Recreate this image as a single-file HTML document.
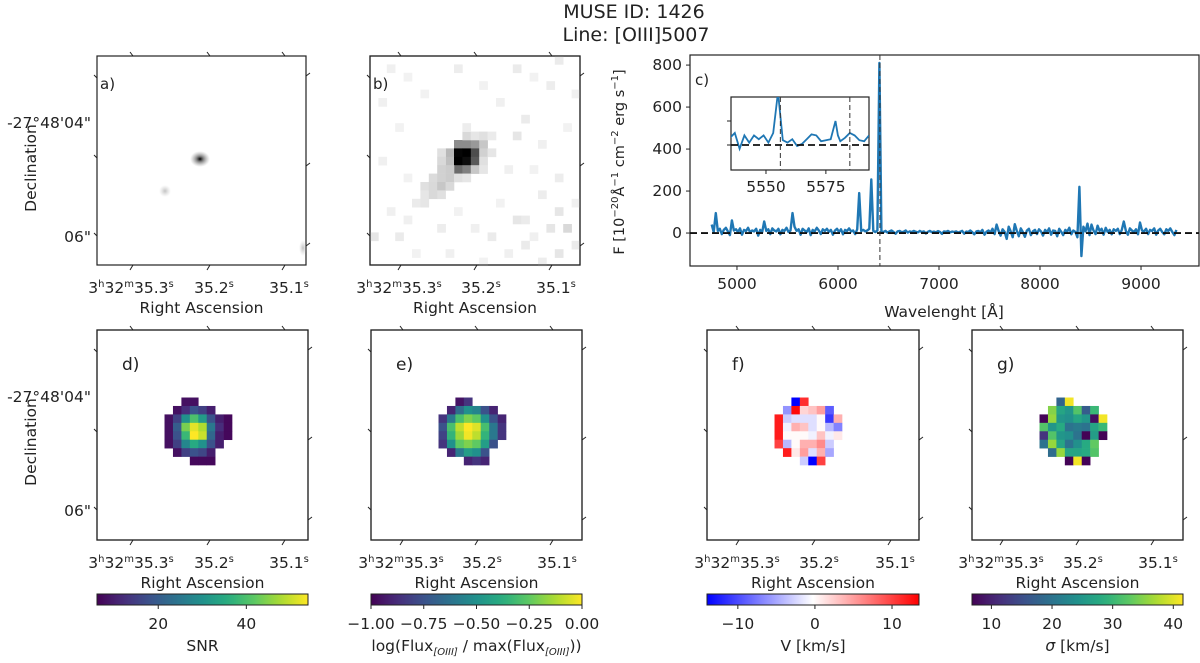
<!DOCTYPE html>
<html><head><meta charset="utf-8"><style>
body{margin:0;background:#fff}
svg text{font-family:"DejaVu Sans","Liberation Sans",sans-serif;fill:#222}
</style></head><body>
<svg id="fig" width="1200" height="658" viewBox="0 0 1200 658" xmlns="http://www.w3.org/2000/svg">
<text x="634" y="18" font-size="19" text-anchor="middle">MUSE ID: 1426</text>
<text x="636" y="41" font-size="19" text-anchor="middle">Line: [OIII]5007</text>
<g id="root"></g>
</svg>
<script>
// ---------- spectrum data ----------
const wlStart = 4750, wlStep = 20;
const specFlux = [40,5,95,10,20,-5,15,25,8,-10,60,12,18,5,22,-8,15,10,25,3,12,
8,20,-12,15,5,55,10,18,-5,22,12,8,20,-6,15,10,25,5,12,95,
30,10,18,-8,20,12,5,22,-10,15,8,25,12,-5,18,10,20,6,15,-8,
12,20,5,18,-6,15,10,22,8,12,-5,18,190,10,15,8,12,20,255,10,
5,12,810,8,5,10,2,8,12,5,-3,8,10,4,6,12,2,8,5,10,
6,3,10,5,8,-2,6,10,4,7,3,9,5,-4,8,6,10,3,7,5,
8,2,6,10,-3,7,5,12,4,-6,8,10,3,15,-8,6,12,2,20,-5,
40,10,-12,18,5,-28,30,8,-20,42,10,-15,22,5,-18,12,20,-10,8,15,
-5,18,8,-12,15,5,22,-8,12,10,-15,20,6,-10,15,8,25,-6,12,5,
-20,220,-110,30,8,45,-10,40,12,-5,35,10,20,-8,25,5,15,-6,18,10,
20,-5,15,55,10,-8,22,12,5,18,-6,50,12,8,20,-5,15,10,22,-8,
12,20,5,-6,18,10,22,5,-10,15];
const specXTicks = [5000,6000,7000,8000,9000];
const specYTicks = [0,200,400,600,800];
const lineCenter = 6415;
const insetWl = [5535,5537,5539,5541,5543,5545,5547,5549,5551,5553,5555,5557,5559,5561,5563,5565,5567,5569,5571,5573,5575,5577,5579,5580,5581,5583,5585,5587,5589,5591,5593];
const insetFlux = [15,25,-8,20,5,20,12,20,5,25,110,10,5,12,-2,2,12,22,20,8,10,12,50,20,8,15,25,20,10,8,20];
const insetXTicks = [5550,5575];
const insetDashed = [5556,5585];

// ---------- map data (8x8 cutouts, null = masked) ----------
const snrMap = [
[null,null,8,8,null,null,null,null],
[null,8,12,18,15,10,null,null],
[8,15,30,40,32,18,10,7],
[8,20,44,52,48,25,12,7],
[8,18,38,54,50,22,10,7],
[8,15,28,35,30,18,10,null],
[null,8,15,18,16,10,null,null],
[null,null,null,7,7,7,null,null]];
const fluxMap = [
[null,null,-0.95,-0.85,null,null,null,null],
[null,-0.9,-0.65,-0.5,-0.55,-0.75,-0.9,null],
[-0.85,-0.6,-0.3,-0.2,-0.25,-0.5,-0.75,-0.9],
[-0.75,-0.3,-0.1,0,-0.05,-0.3,-0.6,-0.85],
[-0.8,-0.35,-0.15,-0.02,-0.1,-0.35,-0.6,-0.85],
[-0.85,-0.5,-0.25,-0.2,-0.25,-0.45,-0.75,null],
[null,-0.9,-0.6,-0.45,-0.5,-0.75,null,null],
[null,null,null,-0.9,-0.85,-0.9,null,null]];
const velMap = [
[null,null,-14,11,null,null,null,null],
[null,-6,13,2,3,5,-9,null],
[12,-3,-2,-2,-2,0,-11,4],
[12,-1,4,3,-2,0,-4,-7],
[12,0,0,0,-1,3,-1,1],
[10,-4,0,4,4,6,-3,null],
[null,12,1,5,-2,4,-5,null],
[null,null,null,-3,-14,10,null,null]];
const sigMap = [
[null,null,18,41,null,null,null,null],
[null,35,27,25,32,17,30,null],
[7,36,25,24,27,25,8,41],
[32,25,28,20,21,20,27,30],
[12,32,25,24,20,7,26,7],
[20,36,27,20,24,28,33,null],
[null,19,36,27,27,28,32,null],
[null,null,null,7,41,7,null,null]];

// ---------- helpers ----------
const NS = "http://www.w3.org/2000/svg";
const FS = 15.5;
const root = document.getElementById('root');
function mk(tag, attrs, parent){const e=document.createElementNS(NS,tag);for(const k in attrs)e.setAttribute(k,attrs[k]);(parent||root).appendChild(e);return e;}
const vir=[[68,1,84],[71,45,123],[59,82,139],[44,114,142],[33,145,140],[40,174,128],[94,201,98],[173,220,48],[253,231,37]];
function viridis(t){t=Math.max(0,Math.min(1,t));const p=t*8,i=Math.min(7,Math.floor(p)),f=p-i;const a=vir[i],b=vir[i+1];return `rgb(${a.map((v,k)=>Math.round(v+(b[k]-v)*f)).join(',')})`;}
function bwr(t){t=Math.max(0,Math.min(1,t));if(t<0.5){const f=t/0.5;return `rgb(${Math.round(255*f)},${Math.round(255*f)},255)`;}const f=(t-0.5)/0.5;return `rgb(255,${Math.round(255*(1-f))},${Math.round(255*(1-f))})`;}

function raLabel(g,x,y,parts){
  const t=mk('text',{x:x,y:y,'font-size':FS,'text-anchor':'middle'},g);
  parts.forEach(p=>{const s=mk('tspan',p.sup?{'font-size':10,dy:-6}:(p.down?{'font-size':FS,dy:6}:{}),t);s.textContent=p.t;});
  return t;
}
function mapPanel(name,x0,y0,w,h,ticks,label,showDec){
  const g=mk('g',{});
  
  
  mk('rect',{x:x0,y:y0,width:w,height:h,fill:'#fff',stroke:'#222','stroke-width':1.2},g);
  ticks.forEach((o,i)=>{
    const tk=mk('line',{x1:x0+o,y1:y0+h,x2:x0+o-3,y2:y0+h+5,stroke:'#222','stroke-width':1},g);
    
    
    mk('line',{x1:x0+o,y1:y0,x2:x0+o-3,y2:y0-4,stroke:'#222','stroke-width':1},g);
  });
  [[0,22],[0,102],[0,180],[w,20],[w,110],[w,190]].forEach(p=>{mk('line',{x1:x0+p[0],y1:y0+p[1],x2:x0+p[0]+(p[0]?4:-3),y2:y0+p[1]-3,stroke:'#222','stroke-width':1},g);});
  const l1=raLabel(g,x0+ticks[0]-2,y0+h+28,[{t:'3'},{t:'h',sup:1},{t:'32',down:1},{t:'m',sup:1},{t:'35.3',down:1},{t:'s',sup:1}]);
  
  
  const l2=raLabel(g,x0+ticks[1]+4,y0+h+28,[{t:'35.2'},{t:'s',sup:1}]);
  
  
  const l3=raLabel(g,x0+ticks[2]+4,y0+h+28,[{t:'35.1'},{t:'s',sup:1}]);
  
  
  const xl=mk('text',{x:x0+w/2,y:y0+h+48,'font-size':FS,'text-anchor':'middle'},g);
  
  
  xl.textContent='Right Ascension';
  const pl=mk('text',{x:x0+(label.big?25:3),y:y0+(label.big?40:33),'font-size':label.big?17:15},g);
  
  
  pl.textContent=label.t;
  if(showDec){
    const d1=mk('text',{x:x0-6,y:y0+72,'font-size':FS,'text-anchor':'end'},g);
    
    
    d1.textContent='-27°48\'04"';
    const d2=mk('text',{x:x0-6,y:y0+186,'font-size':FS,'text-anchor':'end'},g);
    
    
    d2.textContent='06"';
    const dt=mk('text',{x:0,y:0,'font-size':FS,'text-anchor':'middle',transform:`translate(36,${y0+112}) rotate(-90)`},g);
    
    
    dt.textContent='Declination';
  }
  return g;
}
const CELL=8.44;
function drawMap(g,x0,y0,data,col0,row0,cmap,vmin,vmax,name){
  data.forEach((row,r)=>row.forEach((v,c)=>{
    if(v===null)return;
    const cell=mk('rect',{x:x0+(col0+c)*CELL,y:y0+(row0+r)*CELL,width:CELL+0.3,height:CELL+0.3,fill:cmap((v-vmin)/(vmax-vmin))},g);
    
    
  }));
}
function colorbar(name,x0,y0,w,cmap,vmin,vmax,ticks,tickLabels,title){
  const g=mk('g',{});
  
  
  const id='grad-'+name;
  const defs=mk('defs',{},g);
  const lg=mk('linearGradient',{id:id,x1:0,x2:1,y1:0,y2:0},defs);
  for(let i=0;i<=20;i++)mk('stop',{offset:i/20,'stop-color':cmap(i/20)},lg);
  mk('rect',{x:x0,y:y0,width:w,height:11,fill:`url(#${id})`,stroke:'#222','stroke-width':1},g);
  const sx=v=>x0+(v-vmin)/(vmax-vmin)*w;
  ticks.forEach((v,i)=>{
    mk('line',{x1:sx(v),x2:sx(v),y1:y0+11,y2:y0+15,stroke:'#222'},g);
    const t=mk('text',{x:sx(v),y:y0+35,'font-size':FS,'text-anchor':'middle'},g);
    
    
    t.textContent=tickLabels[i];
  });
  const tt=mk('text',{x:x0+w/2,y:y0+57,'font-size':FS,'text-anchor':'middle'},g);
  
  
  if(typeof title==='string')tt.textContent=title;else title(tt);
}

// ---------- panel a ----------
const ga=mapPanel('panel-a-image',97,56,209,209,[36,113,188],{t:'a)'},true);
const defsA=mk('defs',{},ga);
const rg=mk('radialGradient',{id:'blob'},defsA);
mk('stop',{offset:0,'stop-color':'#000','stop-opacity':1},rg);
mk('stop',{offset:0.35,'stop-color':'#333','stop-opacity':0.6},rg);
mk('stop',{offset:1,'stop-color':'#888','stop-opacity':0},rg);
const rg2=mk('radialGradient',{id:'blob2'},defsA);
mk('stop',{offset:0,'stop-color':'#999','stop-opacity':0.6},rg2);
mk('stop',{offset:1,'stop-color':'#bbb','stop-opacity':0},rg2);
const src=mk('ellipse',{cx:200,cy:159,rx:10,ry:8,fill:'url(#blob)'},ga);


mk('ellipse',{cx:165,cy:191,rx:6,ry:6,fill:'url(#blob2)'},ga);
mk('ellipse',{cx:303,cy:248,rx:4,ry:8,fill:'url(#blob2)'},ga);

// ---------- panel b ----------
const bCells=[[10,10,0.55],[11,10,0.55],[12,10,0.6],[13,10,0.78],[9,11,0.72],[10,11,0.02],[11,11,0],[12,11,0.3],[13,11,0.82],[9,12,0.75],[10,12,0],[11,12,0.05],[12,12,0.35],[13,12,0.88],[10,13,0.42],[11,13,0.5],[12,13,0.78],
[11,9,0.85],[12,9,0.9],[13,9,0.88],[14,9,0.92],[8,11,0.88],[8,12,0.85],[14,11,0.9],[8,13,0.82],[9,13,0.8],[13,13,0.9],[7,14,0.86],[8,14,0.82],[9,14,0.8],[10,14,0.88],[11,14,0.9],[6,15,0.88],[7,15,0.85],[8,15,0.78],[9,15,0.85],[6,16,0.9],[7,16,0.85],[8,16,0.88],[5,17,0.92],[6,17,0.9],[11,8,0.93],[2,1,0.94],[10,1,0.93],[17,1,0.92],[21,3,0.93],[22,0,0.92],[1,5,0.94],[18,7,0.92],[17,9,0.9],[22,14,0.93],[20,16,0.93],[17,19,0.9],[18,19,0.92],[22,18,0.9],[23,20,0.85],[21,20,0.9],[0,21,0.9],[3,21,0.92],[8,20,0.93],[14,21,0.92],[2,18,0.94],[18,22,0.92],[22,23,0.9],
[4,2,0.95],[6,4,0.95],[13,3,0.95],[15,5,0.94],[19,2,0.95],[24,4,0.94],[3,8,0.95],[20,10,0.94],[23,8,0.95],[1,12,0.94],[4,14,0.95],[16,13,0.94],[19,13,0.95],[4,19,0.94],[10,18,0.95],[12,20,0.94],[15,17,0.95],[19,21,0.94],[24,22,0.92],[5,23,0.95],[9,23,0.94],[13,24,0.95],[16,23,0.94],[20,24,0.93],[24,17,0.94]];
const gb=mapPanel('panel-b-image',370,56,210,209,[31,107,182],{t:'b)'},false);
bCells.forEach(c=>{const v=Math.round(c[2]*255);const r=mk('rect',{x:370+c[0]*8.4,y:56+c[1]*8.4,width:8.7,height:8.7,fill:`rgb(${v},${v},${v})`},gb);
  
  });
mk('rect',{x:370,y:56,width:210,height:209,fill:'none',stroke:'#222','stroke-width':1.2},gb);

// ---------- panel c spectrum ----------
const C={x0:690,x1:1199,y0:55,y1:266,wmin:4535,wmax:9574,fmin:-157,fmax:848};
const sx=w=>C.x0+(w-C.wmin)/(C.wmax-C.wmin)*(C.x1-C.x0);
const sy=f=>C.y1-(f-C.fmin)/(C.fmax-C.fmin)*(C.y1-C.y0);
const gc=mk('g',{});


mk('rect',{x:C.x0,y:C.y0,width:C.x1-C.x0,height:C.y1-C.y0,fill:'#fff',stroke:'#222','stroke-width':1.2},gc);
specXTicks.forEach(v=>{mk('line',{x1:sx(v),x2:sx(v),y1:C.y1,y2:C.y1+4,stroke:'#222'},gc);
  const t=mk('text',{x:sx(v),y:C.y1+23,'font-size':FS,'text-anchor':'middle'},gc);
  
  
  t.textContent=v;});
specYTicks.forEach(v=>{mk('line',{x1:C.x0,x2:C.x0-4,y1:sy(v),y2:sy(v),stroke:'#222'},gc);
  const t=mk('text',{x:C.x0-8,y:sy(v)+5,'font-size':FS,'text-anchor':'end'},gc);
  
  
  t.textContent=v;});
const xt=mk('text',{x:944,y:317,'font-size':FS,'text-anchor':'middle'},gc);


xt.textContent='Wavelenght [Å]';
const yt=mk('text',{x:0,y:0,'font-size':14.5,'text-anchor':'middle',transform:'translate(624,162) rotate(-90)'},gc);


yt.innerHTML='F [10<tspan font-size="10" dy="-6">−20</tspan><tspan dy="6">Å</tspan><tspan font-size="10" dy="-6">−1</tspan><tspan dy="6"> cm</tspan><tspan font-size="10" dy="-6">−2</tspan><tspan dy="6"> erg s</tspan><tspan font-size="10" dy="-6">−1</tspan><tspan dy="6">]</tspan>';
const pts=specFlux.map((f,i)=>`${sx(wlStart+i*wlStep).toFixed(1)},${sy(f).toFixed(1)}`).join(' ');
const sp=mk('polyline',{points:pts,fill:'none',stroke:'#1f77b4','stroke-width':2.4,'stroke-linejoin':'round'},gc);


const z=mk('line',{x1:C.x0,x2:C.x1,y1:sy(0),y2:sy(0),stroke:'#111','stroke-width':1.8,'stroke-dasharray':'7,4'},gc);


const vl=mk('line',{x1:sx(lineCenter),x2:sx(lineCenter),y1:C.y0,y2:C.y1,stroke:'#333','stroke-width':1,'stroke-dasharray':'5,3'},gc);


const pc=mk('text',{x:C.x0+5,y:C.y0+30,'font-size':15},gc);


pc.textContent='c)';
// inset
const I={x0:731,x1:869,y0:97,y1:170,wmin:5535.4,wmax:5593,f0:145,pxPer:24/50};
const ix=w=>I.x0+(w-I.wmin)/(I.wmax-I.wmin)*(I.x1-I.x0);
const iy=f=>I.f0-f*I.pxPer;
const gi=mk('g',{});


mk('rect',{x:I.x0,y:I.y0,width:I.x1-I.x0,height:I.y1-I.y0,fill:'#fff',stroke:'#222','stroke-width':1.2},gi);
const cp=mk('clipPath',{id:'insclip'},gi);
mk('rect',{x:I.x0,y:I.y0,width:I.x1-I.x0,height:I.y1-I.y0},cp);
const ip=mk('polyline',{points:insetWl.map((w,i)=>`${ix(w).toFixed(1)},${iy(insetFlux[i]).toFixed(1)}`).join(' '),fill:'none',stroke:'#1f77b4','stroke-width':1.8,'clip-path':'url(#insclip)'},gi);


mk('line',{x1:I.x0,x2:I.x1,y1:iy(0),y2:iy(0),stroke:'#111','stroke-width':1.8,'stroke-dasharray':'7,4'},gi);
insetDashed.forEach(w=>mk('line',{x1:ix(w),x2:ix(w),y1:I.y0,y2:I.y1,stroke:'#333','stroke-width':1,'stroke-dasharray':'5,3'},gi));
mk('line',{x1:I.x0,x2:I.x0-4,y1:iy(50),y2:iy(50),stroke:'#222'},gi);
mk('line',{x1:I.x0,x2:I.x0-4,y1:iy(0),y2:iy(0),stroke:'#222'},gi);
insetXTicks.forEach(v=>{mk('line',{x1:ix(v),x2:ix(v),y1:I.y1,y2:I.y1+4,stroke:'#222'},gi);
  const t=mk('text',{x:ix(v),y:I.y1+22,'font-size':FS,'text-anchor':'middle'},gi);
  
  
  t.textContent=v;});

// ---------- bottom maps ----------
const gd=mapPanel('panel-d-snr-map',97,330,211,210,[36,113,188],{t:'d)',big:1},true);
drawMap(gd,97,330,snrMap,8,8,viridis,6,54,'snr-pixel');
mk('rect',{x:97,y:330,width:211,height:210,fill:'none',stroke:'#222','stroke-width':1.2},gd);
const ge=mapPanel('panel-e-flux-map',371,330,211,210,[32,107,182],{t:'e)',big:1},false);
drawMap(ge,371,330,fluxMap,8,8,viridis,-1,0,'flux-pixel');
mk('rect',{x:371,y:330,width:211,height:210,fill:'none',stroke:'#222','stroke-width':1.2},ge);
const gf=mapPanel('panel-f-velocity-map',707,330,212,210,[32,108,184],{t:'f)',big:1},false);
drawMap(gf,707,330,velMap,8,8,bwr,-14,13.5,'velocity-pixel');
mk('rect',{x:707,y:330,width:212,height:210,fill:'none',stroke:'#222','stroke-width':1.2},gf);
const gg=mapPanel('panel-g-dispersion-map',972,330,211,210,[31,107,182],{t:'g)',big:1},false);
drawMap(gg,972,330,sigMap,8,8,viridis,6.8,41.6,'dispersion-pixel');
mk('rect',{x:972,y:330,width:211,height:210,fill:'none',stroke:'#222','stroke-width':1.2},gg);

colorbar('snr-colorbar',97,594,211,viridis,6.1,54,[20,40],['20','40'],'SNR');
colorbar('flux-colorbar',371,594,211,viridis,-1,0,[-1,-0.75,-0.5,-0.25,0],['−1.00','−0.75','−0.50','−0.25','0.00'],
  t=>{t.innerHTML='log(Flux<tspan font-size="10" font-style="italic" dy="4">[OIII]</tspan><tspan dy="-4"> / max(Flux</tspan><tspan font-size="10" font-style="italic" dy="4">[OIII]</tspan><tspan dy="-4">))</tspan>';});
colorbar('velocity-colorbar',707,594,212,bwr,-14,13.5,[-10,0,10],['−10','0','10'],'V [km/s]');
colorbar('dispersion-colorbar',972,594,211,viridis,6.8,41.6,[10,20,30,40],['10','20','30','40'],
  t=>{t.innerHTML='<tspan font-style="italic">σ</tspan> [km/s]';});
</script>
</body></html>
